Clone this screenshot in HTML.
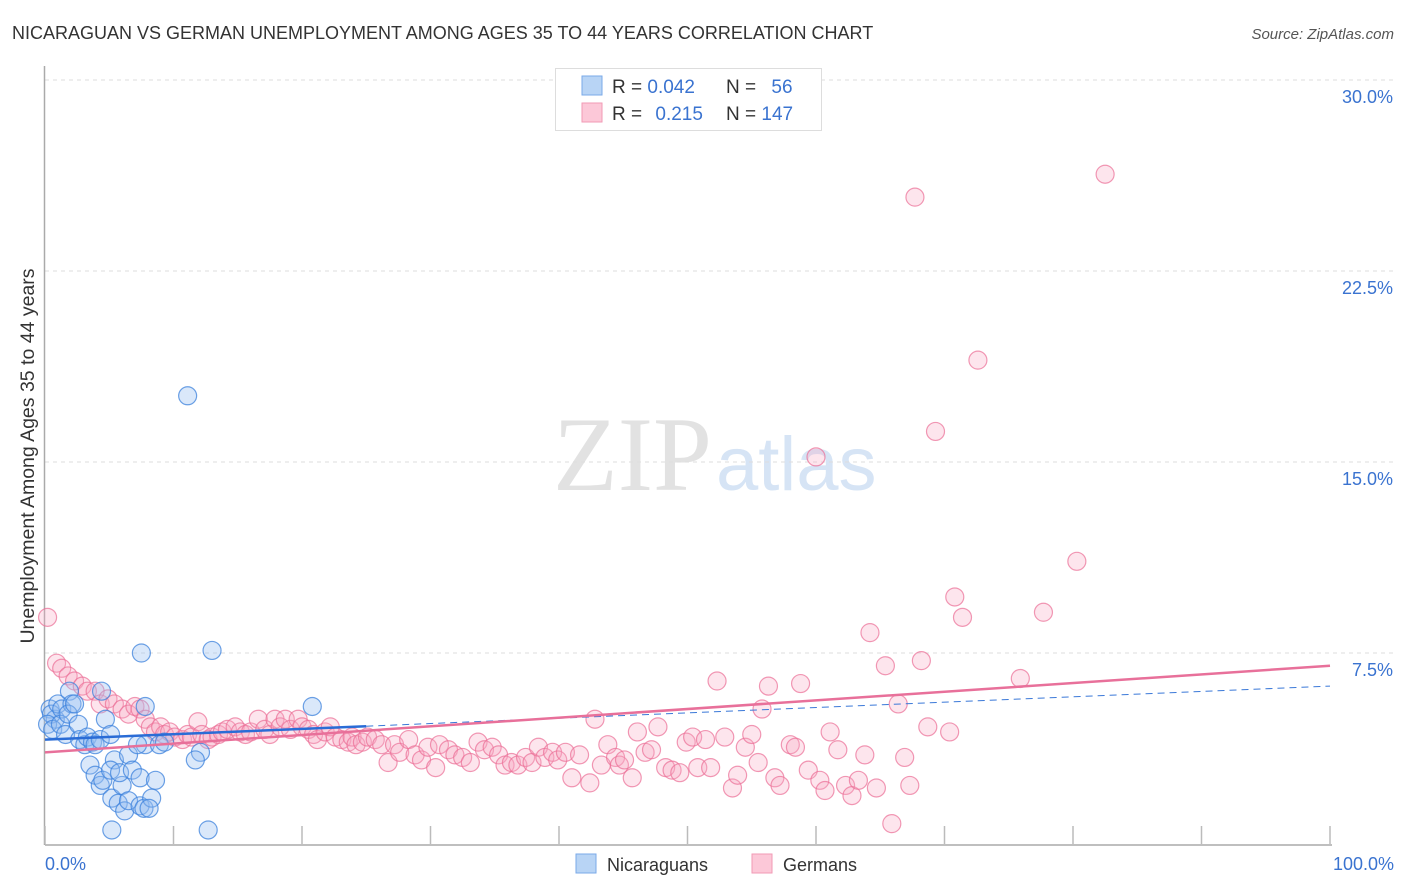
<!DOCTYPE html>
<html><head><meta charset="utf-8"><style>
body{margin:0;background:#fff;font-family:"Liberation Sans",sans-serif;}
svg{display:block}
</style></head><body>
<svg id="chart" width="1406" height="892" viewBox="0 0 1406 892">
<text x="12" y="39" font-size="18" fill="#333">NICARAGUAN VS GERMAN UNEMPLOYMENT AMONG AGES 35 TO 44 YEARS CORRELATION CHART</text>
<text x="1394" y="39" font-size="15" fill="#555" font-style="italic" text-anchor="end">Source: ZipAtlas.com</text>
<g>
<text x="553" y="490" font-family="Liberation Serif" font-size="106" fill="#e2e2e2">ZIP</text>
<text x="716" y="490" font-size="76" fill="#d6e4f5">atlas</text>
</g>
<g id="grid"></g>
<g id="axes"></g>
<g id="pts"></g>
<g id="lines"></g>
<text transform="translate(34,456) rotate(-90)" font-size="19.5" fill="#333" text-anchor="middle">Unemployment Among Ages 35 to 44 years</text>
<g>
<rect x="555.5" y="68.5" width="266" height="62" fill="#fff" stroke="#ddd"/>
<rect x="582" y="76" width="20" height="19" fill="#b8d4f5" stroke="#7aaae8"/>
<rect x="582" y="103" width="20" height="19" fill="#fcc8d8" stroke="#f29ab5"/>
<text x="612" y="93" font-size="19" fill="#333">R = <tspan fill="#3a73d0">0.042</tspan></text>
<text x="726" y="93" font-size="19" fill="#333">N = <tspan fill="#3a73d0" dx="10">56</tspan></text>
<text x="612" y="120" font-size="19" fill="#333">R = <tspan fill="#3a73d0" dx="8">0.215</tspan></text>
<text x="726" y="120" font-size="19" fill="#333">N = <tspan fill="#3a73d0">147</tspan></text>
</g>
<g>
<rect x="576" y="854" width="20" height="19" fill="#b8d4f5" stroke="#7aaae8"/>
<text x="607" y="871" font-size="18" fill="#333">Nicaraguans</text>
<rect x="752" y="854" width="20" height="19" fill="#fcc8d8" stroke="#f29ab5"/>
<text x="783" y="871" font-size="18" fill="#333">Germans</text>
</g>
</svg>
<script>
const yTicks=[7.5,15,22.5,30];
const yTickLabels=["7.5%","15.0%","22.5%","30.0%"];
const xTickVals=[0,10,20,30,40,50,60,70,80,90,100];
const xEndLabels=["0.0%","100.0%"];
const blueX=[0.4,0.8,0.5,1.0,1.3,0.2,0.6,1.2,1.6,1.9,2.1,1.8,2.3,2.6,2.7,3.1,3.3,3.7,3.9,4.3,4.4,4.7,5.1,5.4,3.5,3.9,4.3,4.5,5.1,5.2,5.7,6.0,6.2,5.2,5.8,6.5,6.8,6.5,7.4,7.7,7.4,7.8,7.2,7.5,7.8,8.6,8.3,8.1,8.9,9.3,11.1,13.0,12.1,11.7,12.7,20.8];
const blueY=[5.3,4.9,5.1,5.5,5.3,4.7,4.5,4.7,4.3,6.0,5.5,5.1,5.5,4.7,4.1,3.9,4.2,4.0,3.9,4.1,6.0,4.9,4.3,3.3,3.1,2.7,2.3,2.5,2.9,1.8,1.6,2.3,1.3,0.55,2.8,3.5,2.9,1.7,1.5,1.4,2.6,3.9,3.9,7.5,5.4,2.5,1.8,1.4,3.9,4.0,17.6,7.6,3.6,3.3,0.55,5.4];
const pinkX=[0.2,0.9,1.3,1.8,2.3,2.9,3.3,3.9,4.3,4.9,5.4,6.0,6.5,7.0,7.4,7.8,8.2,8.6,9.0,9.3,9.7,10.1,10.7,11.1,11.4,11.9,12.2,12.7,13.0,13.5,13.8,14.2,14.8,15.2,15.6,16.0,16.6,17.1,17.5,17.9,18.3,18.7,19.1,19.7,20.0,20.5,20.9,21.2,21.8,22.2,22.6,23.1,23.6,23.9,24.2,24.7,25.1,25.7,26.2,26.7,27.2,27.6,28.3,28.8,29.3,29.8,30.4,30.7,31.4,31.9,32.5,33.1,33.7,34.2,34.8,35.3,35.8,36.3,36.8,37.4,37.9,38.4,38.9,39.5,39.9,40.5,41.0,41.6,42.4,42.8,43.3,43.8,44.4,44.7,45.1,45.7,46.1,46.7,47.2,47.7,48.3,48.8,49.4,49.9,50.4,50.8,51.4,51.8,52.3,52.9,53.5,53.9,54.5,55.0,55.5,55.8,56.3,56.8,57.2,58.0,58.4,58.8,59.4,60.0,60.3,60.7,61.1,61.7,62.3,62.8,63.3,63.8,64.2,64.7,65.4,65.9,66.4,66.9,67.3,67.7,68.2,68.7,69.3,70.4,70.8,71.4,72.6,75.9,77.7,80.3,82.5];
const pinkY=[8.9,7.1,6.9,6.6,6.4,6.2,6.0,6.0,5.5,5.7,5.5,5.3,5.1,5.4,5.3,4.9,4.6,4.4,4.6,4.3,4.4,4.2,4.1,4.3,4.2,4.8,4.3,4.1,4.2,4.3,4.4,4.5,4.6,4.4,4.3,4.4,4.9,4.5,4.3,4.9,4.6,4.9,4.5,4.9,4.6,4.5,4.3,4.1,4.4,4.6,4.2,4.1,4.0,4.2,3.9,4.0,4.2,4.1,3.9,3.2,3.9,3.6,4.1,3.5,3.3,3.8,3.0,3.9,3.7,3.5,3.4,3.2,4.0,3.7,3.8,3.5,3.1,3.2,3.1,3.4,3.2,3.8,3.4,3.6,3.3,3.6,2.6,3.5,2.4,4.9,3.1,3.9,3.4,3.1,3.3,2.6,4.4,3.6,3.7,4.6,3.0,2.9,2.8,4.0,4.2,3.0,4.1,3.0,6.4,4.2,2.2,2.7,3.8,4.3,3.2,5.3,6.2,2.6,2.3,3.9,3.8,6.3,2.9,15.2,2.5,2.1,4.4,3.7,2.3,1.9,2.5,3.5,8.3,2.2,7.0,0.8,5.5,3.4,2.3,25.4,7.2,4.6,16.2,4.4,9.7,8.9,19.0,6.5,9.1,11.1,26.3];
const blueLine=[4.1,0.021];
const pinkLine=[3.6,0.034];
const NS="http://www.w3.org/2000/svg";
const X0=45,X1=1330,Y0=844,Y30=80;
const sx=v=>X0+(X1-X0)*v/100;
const sy=v=>Y0-(Y0-Y30)*v/30;
function mk(t,a,p){const e=document.createElementNS(NS,t);for(const k in a)e.setAttribute(k,a[k]);p.appendChild(e);return e;}
const grid=document.getElementById('grid'),axes=document.getElementById('axes');
yTicks.forEach((v,i)=>{
  const l=mk('line',{x1:X0,x2:1395,y1:sy(v),y2:sy(v),stroke:'#ddd','stroke-dasharray':'4,4'},grid);
  
  
  const t=mk('text',{x:1393,y:sy(v)+23,'font-size':18,fill:'#3a73d0','text-anchor':'end'},axes);
  t.textContent=yTickLabels[i];
  
  
});
mk('line',{x1:X0-0.5,x2:X0-0.5,y1:66,y2:Y0+1,stroke:'#aaa','stroke-width':1.5},axes);
mk('line',{x1:X0,x2:X1+2,y1:Y0+1,y2:Y0+1,stroke:'#aaa','stroke-width':1.5},axes);
xTickVals.forEach(v=>{
  const l=mk('line',{x1:sx(v),x2:sx(v),y1:826,y2:Y0,stroke:'#bbb','stroke-width':1.5},axes);
  
  
});
const tl=mk('text',{x:45,y:870,'font-size':18,fill:'#3a73d0'},axes);tl.textContent=xEndLabels[0];


const tr=mk('text',{x:1394,y:870,'font-size':18,fill:'#3a73d0','text-anchor':'end'},axes);tr.textContent=xEndLabels[1];


const pts=document.getElementById('pts');
pinkX.forEach((x,i)=>{
  const c=mk('circle',{cx:sx(x),cy:sy(pinkY[i]),r:9,fill:'rgba(248,170,195,0.3)',stroke:'rgba(235,110,150,0.7)','stroke-width':1.2},pts);
  
  
});
blueX.forEach((x,i)=>{
  const c=mk('circle',{cx:sx(x),cy:sy(blueY[i]),r:9,fill:'rgba(150,190,240,0.35)',stroke:'rgba(60,130,220,0.75)','stroke-width':1.2},pts);
  
  
});
const lines=document.getElementById('lines');
const f=(L,x)=>L[0]+L[1]*x;
const bd=mk('line',{x1:sx(25),y1:sy(f(blueLine,25)),x2:sx(100),y2:sy(f(blueLine,100)),stroke:'#3a78d8','stroke-width':1,'stroke-dasharray':'7,5'},lines);


const pl=mk('line',{x1:sx(0),y1:sy(f(pinkLine,0)),x2:sx(100),y2:sy(f(pinkLine,100)),stroke:'#e8709a','stroke-width':2.5},lines);


const bl=mk('line',{x1:sx(0),y1:sy(f(blueLine,0)),x2:sx(25),y2:sy(f(blueLine,25)),stroke:'#2a6cd6','stroke-width':2.5},lines);


</script>
</body></html>
